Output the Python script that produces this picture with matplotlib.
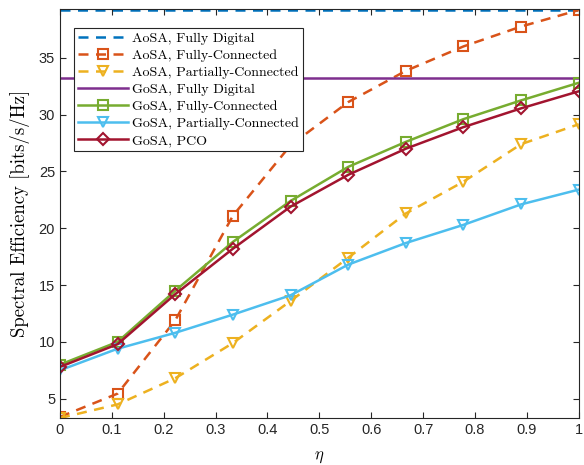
import numpy as np
import matplotlib
matplotlib.use("Agg")
import matplotlib.pyplot as plt

eta = [0, 1/9, 2/9, 3/9, 4/9, 5/9, 6/9, 7/9, 8/9, 1.0]

aosa_fd = [39.2] * 10
aosa_fc = [3.4, 5.45, 11.9, 21.1, 27.3, 31.1, 33.85, 36.0, 37.75, 39.2]
aosa_pc = [3.3, 4.5, 6.8, 9.9, 13.6, 17.4, 21.3, 24.1, 27.4, 29.15]
gosa_fd = [33.25] * 10
gosa_fc = [8.0, 10.0, 14.5, 18.8, 22.4, 25.4, 27.6, 29.6, 31.25, 32.8]
gosa_pc = [7.5, 9.4, 10.8, 12.4, 14.1, 16.8, 18.7, 20.3, 22.1, 23.4]
gosa_pco = [7.8, 9.8, 14.2, 18.2, 21.9, 24.7, 27.0, 28.9, 30.55, 32.05]

c_blue = "#0072BD"
c_orange = "#D95319"
c_yellow = "#EDB120"
c_purple = "#7E2F8E"
c_green = "#77AC30"
c_cyan = "#4DBEEE"
c_red = "#A2142F"

plt.rcParams['font.family'] = ['Liberation Sans', 'DejaVu Sans']
plt.rcParams['mathtext.fontset'] = 'cm'

fig = plt.figure(figsize=(5.84, 4.65), dpi=100)
ax = fig.add_axes([0.1027, 0.101, 0.8883, 0.8786])

lw = 1.8
ms = 6.5
ax.plot(eta, aosa_fd, "--", color=c_blue, lw=lw, dashes=(4, 3), label="AoSA, Fully Digital")
ax.plot(eta, aosa_fc, "--", color=c_orange, lw=lw, dashes=(4, 3), marker="s", ms=ms,
        mfc="none", mew=1.5, label="AoSA, Fully-Connected")
ax.plot(eta, aosa_pc, "--", color=c_yellow, lw=lw, dashes=(4, 3), marker="v", ms=ms + 1,
        mfc="none", mew=1.5, label="AoSA, Partially-Connected")
ax.plot(eta, gosa_fd, "-", color=c_purple, lw=lw, label="GoSA, Fully Digital")
ax.plot(eta, gosa_fc, "-", color=c_green, lw=lw, marker="s", ms=ms,
        mfc="none", mew=1.5, label="GoSA, Fully-Connected")
ax.plot(eta, gosa_pc, "-", color=c_cyan, lw=lw, marker="v", ms=ms + 1,
        mfc="none", mew=1.5, label="GoSA, Partially-Connected")
ax.plot(eta, gosa_pco, "-", color=c_red, lw=lw, marker="D", ms=ms - 0.5,
        mfc="none", mew=1.5, label="GoSA, PCO")

ax.set_xlim(0, 1)
ax.set_ylim(3.3, 39.25)
ax.set_xticks(np.arange(0, 1.01, 0.1))
ax.set_xticklabels(["0", "0.1", "0.2", "0.3", "0.4", "0.5", "0.6", "0.7", "0.8", "0.9", "1"])
ax.set_yticks([5, 10, 15, 20, 25, 30, 35])
ax.tick_params(direction="in", length=4, labelsize=10.5, colors="#262626", top=True, right=True)
for s in ax.spines.values():
    s.set_color("#262626")
    s.set_linewidth(0.8)

ax.set_xlabel(r"$\eta$", fontsize=12, labelpad=9)
ax.set_ylabel("Spectral Efficiency [bits/s/Hz]", fontsize=13.5, family="cmr10", labelpad=6)

leg = ax.legend(loc="upper left", bbox_to_anchor=(0.014, 0.972), prop={"family": "cmr10", "size": 10.1},
                handlelength=3.5, labelspacing=0.3, borderpad=0.3, handletextpad=0.3,
                fancybox=False, framealpha=1, edgecolor="#262626")
leg.get_frame().set_linewidth(0.8)

fig.savefig("out.png", dpi=100)
